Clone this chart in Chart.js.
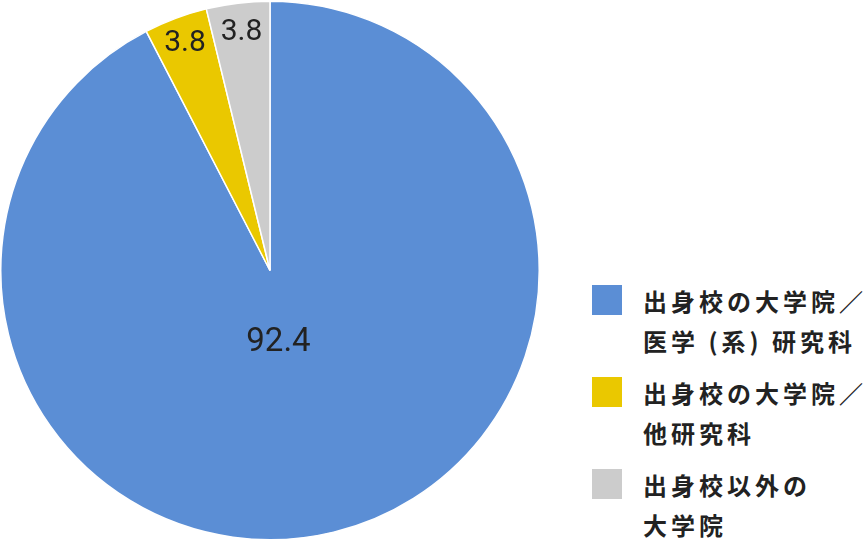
<!DOCTYPE html>
<html lang="ja">
<head>
<meta charset="utf-8">
<script src="https://cdn.jsdelivr.net/npm/chart.js@4.4.1/dist/chart.umd.min.js"></script>
<style>
    html, body { margin: 0; padding: 0; background: #fff; }
    #wrap { position: relative; width: 868px; height: 540px; }
    #pieBox { position: absolute; left: 0; top: 0; width: 540px; height: 541px; }
    #legend { position: absolute; left: 592px; top: 281px; font-family: "Noto Sans CJK JP", sans-serif; font-weight: 700; color: #222; }
    .item { position: relative; padding-left: 51px; margin-bottom: 12px; }
    .item .box { position: absolute; left: 0; top: 4px; width: 30px; height: 30px; }
    .item .txt { font-size: 24px; line-height: 40px; letter-spacing: 4px; white-space: pre; }
</style>
</head>
<body>
<div id="wrap">
    <div id="pieBox"><canvas id="pieChart"></canvas></div>
    <div id="legend"></div>
</div>
<script>
// Dữ liệu biểu đồ
const categories = [
    ['出身校の大学院／', '医学 (系) 研究科'],
    ['出身校の大学院／', '他研究科'],
    ['出身校以外の', '大学院']
];
const values = [92.4, 3.8, 3.8];
const valueLabels = ['92.4', '3.8', '3.8'];
const colors = ['#5b8ed5', '#eac800', '#cccccc'];

// Vị trí nhãn: tỉ lệ bán kính và lệch góc (độ)
const labelRadius = [0.27, 0.9, 0.89];
const labelShift = [7, 0, 0];
const labelSize = [33, 30, 30];

// Plugin vẽ nhãn giá trị lên từng lát
const valueLabelPlugin = {
    id: 'valueLabels',
    afterDatasetsDraw(chart) {
        const ctx = chart.ctx;
        const meta = chart.getDatasetMeta(0);
        ctx.save();
        ctx.fillStyle = '#222';
        ctx.textAlign = 'center';
        ctx.textBaseline = 'middle';
        meta.data.forEach((arc, i) => {
            const mid = (arc.startAngle + arc.endAngle) / 2 + labelShift[i] * Math.PI / 180;
            const r = arc.outerRadius * labelRadius[i];
            ctx.font = labelSize[i] + 'px Roboto, sans-serif';
            ctx.fillText(valueLabels[i], arc.x + Math.cos(mid) * r, arc.y + Math.sin(mid) * r);
        });
        ctx.restore();
    }
};

new Chart(document.getElementById('pieChart'), {
    type: 'pie',
    data: {
        labels: categories.map(c => c.join('')),
        datasets: [{
            data: values,
            backgroundColor: colors,
            borderColor: '#fff',
            borderWidth: 1.5
        }]
    },
    options: {
        responsive: true,
        maintainAspectRatio: false,
        animation: false,
        layout: { padding: 0 },
        plugins: {
            legend: { display: false },
            tooltip: { enabled: false }
        }
    },
    plugins: [valueLabelPlugin]
});

// Chú thích HTML
const legend = document.getElementById('legend');
categories.forEach((lines, i) => {
    const item = document.createElement('div');
    item.className = 'item';
    item.innerHTML = '<span class="box" style="background:' + colors[i] + '"></span>' +
        '<div class="txt">' + lines.join('\n') + '</div>';
    legend.appendChild(item);
});
</script>
</body>
</html>
